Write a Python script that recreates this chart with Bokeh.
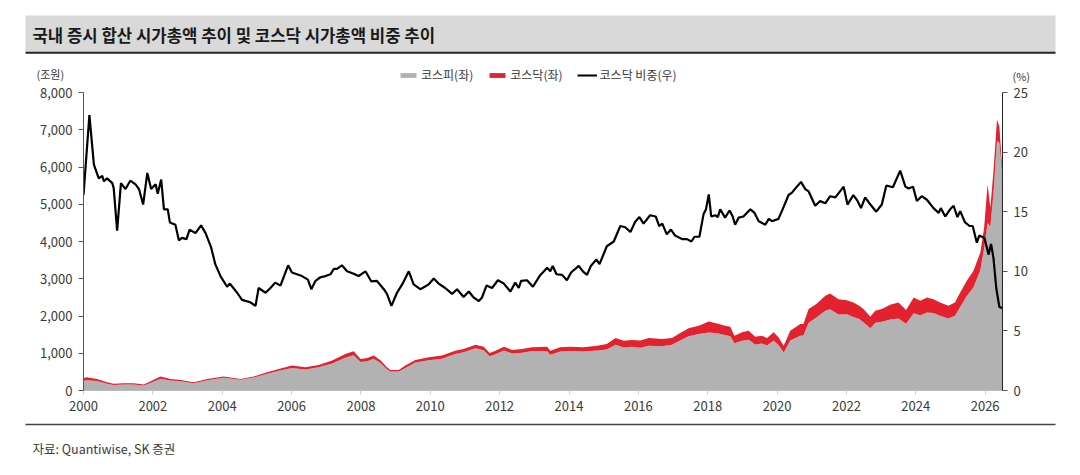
from bokeh.plotting import figure
from bokeh.layouts import column
from bokeh.models import (Range1d, LinearAxis, FixedTicker, NumeralTickFormatter,
                          PrintfTickFormatter, Legend, LegendItem, ColumnDataSource)
from bokeh.embed import file_html
from bokeh.resources import INLINE
from bokeh.core.properties import value

# ---- data ----
area_years = [2000.00, 2000.09, 2000.39, 2000.68, 2000.87, 2001.16, 2001.45, 2001.74, 2001.98,
              2002.22, 2002.51, 2002.80, 2003.18, 2003.57, 2004.04, 2004.53, 2004.91, 2005.20,
              2005.63, 2006.01, 2006.40, 2006.78, 2007.17, 2007.55, 2007.79, 2007.99, 2008.18,
              2008.37, 2008.57, 2008.75, 2008.85, 2009.09, 2009.28, 2009.57, 2009.95, 2010.34,
              2010.72, 2010.96, 2011.30, 2011.54, 2011.71, 2011.88, 2012.12, 2012.36, 2012.65,
              2012.93, 2013.37, 2013.46, 2013.75, 2014.04, 2014.42, 2014.81, 2015.09, 2015.34,
              2015.58, 2015.81, 2016.06, 2016.30, 2016.68, 2016.97, 2017.16, 2017.45, 2017.74,
              2018.03, 2018.27, 2018.50, 2018.65, 2018.77, 2018.99, 2019.18, 2019.37, 2019.56,
              2019.71, 2019.90, 2020.04, 2020.19, 2020.38, 2020.67, 2020.76, 2020.91, 2021.15,
              2021.39, 2021.53, 2021.77, 2022.01, 2022.20, 2022.37, 2022.49, 2022.69, 2022.83,
              2023.02, 2023.26, 2023.50, 2023.72, 2023.94, 2024.13, 2024.32, 2024.51, 2024.70,
              2024.94, 2025.13, 2025.28, 2025.47, 2025.66, 2025.86, 2025.97, 2026.07, 2026.15,
              2026.24, 2026.34, 2026.41, 2026.50]
kospi = [260, 277, 254, 183, 150, 163, 162, 134, 223,
         315, 268, 249, 194, 272, 341, 287, 348, 426,
         530, 603, 564, 623, 723, 882, 949, 765, 788,
         851, 733, 572, 513, 507, 607, 749, 813, 853,
         981, 1027, 1133, 1082, 921, 973, 1071, 996, 1013,
         1059, 1056, 963, 1047, 1061, 1044, 1072, 1098, 1229,
         1154, 1176, 1150, 1204, 1190, 1226, 1321, 1456, 1514,
         1555, 1537, 1487, 1456, 1267, 1333, 1364, 1235, 1265,
         1211, 1339, 1221, 1019, 1341, 1472, 1479, 1820, 1972,
         2142, 2180, 2043, 2046, 1975, 1920, 1835, 1670, 1820,
         1845, 1908, 1933, 1791, 2072, 2018, 2097, 2078, 2008,
         1935, 2008, 2241, 2534, 2768, 3226, 3815, 4500, 4400,
         5300, 6700, 6650, 5700]
kosdaq = [70, 80, 58, 40, 28, 33, 34, 26, 45,
          60, 44, 36, 29, 40, 34, 25, 27, 38,
          50, 66, 60, 64, 80, 99, 103, 82, 86,
          86, 70, 52, 40, 46, 62, 72, 79, 84,
          89, 88, 98, 95, 87, 97, 106, 92, 102,
          101, 121, 107, 113, 116, 116, 132, 151, 180,
          184, 180, 190, 205, 193, 183, 195, 212, 225,
          300, 265, 252, 257, 205, 228, 242, 210, 207,
          198, 222, 206, 185, 265, 312, 305, 365, 365,
          400, 424, 410, 380, 388, 355, 350, 310, 321,
          340, 393, 430, 368, 425, 390, 400, 375, 355,
          340, 355, 390, 410, 443, 475, 555, 1030, 505,
          590, 570, 440, 150]

ratio_years = [2000.00, 2000.17, 2000.30, 2000.44, 2000.54, 2000.59, 2000.68, 2000.83, 2000.87,
               2000.97, 2001.08, 2001.21, 2001.35, 2001.50, 2001.60, 2001.72, 2001.84, 2001.95,
               2002.08, 2002.14, 2002.24, 2002.32, 2002.43, 2002.49, 2002.65, 2002.75, 2002.84,
               2002.97, 2003.06, 2003.23, 2003.39, 2003.52, 2003.68, 2003.80, 2003.95, 2004.14,
               2004.22, 2004.43, 2004.57, 2004.81, 2004.96, 2005.05, 2005.25, 2005.39, 2005.53,
               2005.68, 2005.90, 2006.01, 2006.30, 2006.47, 2006.57, 2006.69, 2006.83, 2006.98,
               2007.12, 2007.22, 2007.31, 2007.45, 2007.60, 2007.79, 2007.93, 2008.13, 2008.30,
               2008.46, 2008.66, 2008.75, 2008.88, 2009.04, 2009.19, 2009.38, 2009.52, 2009.71,
               2009.84, 2009.95, 2010.10, 2010.24, 2010.43, 2010.63, 2010.77, 2010.96, 2011.11,
               2011.25, 2011.40, 2011.49, 2011.62, 2011.78, 2011.95, 2012.12, 2012.31, 2012.45,
               2012.55, 2012.62, 2012.79, 2012.96, 2013.15, 2013.37, 2013.46, 2013.53, 2013.64,
               2013.80, 2013.94, 2014.06, 2014.28, 2014.40, 2014.52, 2014.63, 2014.79, 2014.88,
               2015.09, 2015.29, 2015.48, 2015.62, 2015.77, 2015.91, 2016.03, 2016.15, 2016.34,
               2016.50, 2016.60, 2016.69, 2016.82, 2016.94, 2017.06, 2017.26, 2017.40, 2017.53,
               2017.62, 2017.76, 2017.88, 2017.95, 2018.03, 2018.10, 2018.22, 2018.29, 2018.36,
               2018.50, 2018.63, 2018.72, 2018.79, 2018.89, 2019.03, 2019.23, 2019.35, 2019.47,
               2019.66, 2019.76, 2019.85, 2020.04, 2020.19, 2020.33, 2020.43, 2020.57, 2020.69,
               2020.81, 2020.91, 2021.10, 2021.24, 2021.39, 2021.53, 2021.68, 2021.92, 2022.03,
               2022.20, 2022.32, 2022.42, 2022.54, 2022.69, 2022.86, 2023.02, 2023.15, 2023.34,
               2023.55, 2023.70, 2023.79, 2023.92, 2024.03, 2024.17, 2024.32, 2024.51, 2024.66,
               2024.72, 2024.85, 2024.99, 2025.09, 2025.20, 2025.28, 2025.42, 2025.55, 2025.64,
               2025.76, 2025.83, 2025.98, 2026.10, 2026.17, 2026.24, 2026.32, 2026.41, 2026.50]
ratio = [16.4, 23.1, 18.95, 17.8, 18.0, 17.55, 17.8, 17.4, 17.0,
         13.4, 17.4, 16.9, 17.6, 17.3, 16.9, 15.6, 18.25, 16.9,
         17.3, 16.5, 17.7, 15.2, 15.2, 14.1, 13.9, 12.6, 12.8,
         12.7, 13.5, 13.2, 13.85, 13.2, 12.0, 10.6, 9.6, 8.7,
         8.97, 8.2, 7.6, 7.4, 7.1, 8.6, 8.2, 8.6, 9.05,
         8.8, 10.5, 9.9, 9.6, 9.3, 8.5, 9.2, 9.5, 9.6,
         9.75, 10.2, 10.2, 10.5, 10.0, 9.8, 9.6, 10.0, 9.15,
         9.2, 8.5, 8.1, 7.1, 8.2, 8.9, 10.0, 8.9, 8.5,
         8.7, 8.9, 9.4, 8.97, 8.6, 8.1, 8.5, 7.85, 8.3,
         7.8, 7.5, 7.8, 8.8, 8.6, 9.25, 8.97, 8.3, 9.05,
         8.6, 9.2, 9.25, 8.7, 9.6, 10.3, 10.0, 10.45, 9.75,
         9.7, 9.25, 9.9, 10.45, 10.0, 9.7, 10.45, 11.0, 10.6,
         12.1, 12.5, 13.8, 13.7, 13.3, 14.15, 14.55, 14.0, 14.7,
         14.6, 13.8, 14.0, 13.1, 13.5, 13.0, 12.7, 12.7, 12.5,
         12.9, 12.9, 14.8, 15.2, 16.45, 14.6, 14.7, 14.55, 15.2,
         14.5, 15.1, 14.6, 13.9, 14.5, 14.6, 15.2, 14.9, 14.2,
         13.9, 14.4, 14.2, 14.4, 15.4, 16.4, 16.6, 17.1, 17.5,
         16.9, 16.7, 15.5, 15.9, 15.7, 16.3, 16.2, 17.1, 15.6,
         16.4, 15.9, 15.3, 16.2, 15.6, 15.0, 15.6, 17.2, 17.05,
         18.45, 17.1, 16.95, 17.1, 15.9, 16.3, 16.0, 15.3, 14.9,
         15.3, 14.6, 15.2, 15.5, 14.55, 15.05, 14.1, 13.8, 13.8,
         12.4, 13.0, 12.8, 11.4, 12.3, 11.1, 8.6, 7.0, 6.9]

x_ticks = list(range(2000, 2027, 2))
left_ticks = [0, 1000, 2000, 3000, 4000, 5000, 6000, 7000, 8000]
right_ticks = [0, 5, 10, 15, 20, 25]

title_text = "국내 증시 합산 시가총액 추이 및 코스닥 시가총액 비중 추이"
source_text = "자료: Quantiwise, SK 증권"
legend_labels = ["코스피(좌)", "코스닥(좌)", "코스닥 비중(우)"]
left_unit = "(조원)"
right_unit = "(%)"

FONT = "Noto Sans CJK KR"
GRAY = "#b2b2b2"
RED = "#e2222e"
TXT = "#3a3a3a"
W = 1064


def blank(height):
    f = figure(width=W, height=height, output_backend="svg", toolbar_location=None,
               x_range=Range1d(0, W), y_range=Range1d(height, 0),
               x_axis_type=None, y_axis_type=None, frame_align=False,
               min_border_left=0, min_border_right=0, min_border_top=0, min_border_bottom=0)
    f.grid.visible = False
    f.outline_line_color = None
    return f


# ---- header: title band, units, legend ----
hdr = blank(84)
hdr.quad(left=[25], right=[1055], top=[15], bottom=[52], fill_color="#d9d9d9", line_color=None)
hdr.quad(left=[25], right=[1055], top=[51.2], bottom=[53.2], fill_color="#262626", line_color=None)
hdr.text(x=[32], y=[34.5], text=[title_text], text_font=value(FONT), text_font_size="16.7px",
         text_font_style="bold", text_baseline="middle", text_color="#1a1a1a")
hdr.text(x=[36], y=[73.5], text=[left_unit], text_font=value(FONT), text_font_size="11px",
         text_baseline="middle", text_color=TXT)
hdr.text(x=[1012], y=[75], text=[right_unit], text_font=value(FONT), text_font_size="11px",
         text_baseline="middle", text_color=TXT)
sw1 = hdr.quad(left=[0], right=[0], top=[0], bottom=[0], fill_color=GRAY, line_color=None)
sw2 = hdr.quad(left=[0], right=[0], top=[0], bottom=[0], fill_color=RED, line_color=None)
sw3 = hdr.line(x=[0], y=[0], line_color="black", line_width=2)
leg = Legend(items=[LegendItem(label=legend_labels[0], renderers=[sw1]),
                    LegendItem(label=legend_labels[1], renderers=[sw2]),
                    LegendItem(label=legend_labels[2], renderers=[sw3])],
             orientation="horizontal", location=(398, 1),
             label_text_font=FONT, label_text_font_size="12px", label_text_color=TXT,
             glyph_width=20, glyph_height=6, spacing=14, label_standoff=3,
             padding=2, margin=0, border_line_color=None, background_fill_alpha=0,
             label_height=12)
hdr.add_layout(leg, "center")

# ---- main chart ----
src = ColumnDataSource(dict(year=area_years, kospi=kospi, kosdaq=kosdaq))
p = figure(width=W, height=334, output_backend="svg", toolbar_location=None,
           x_range=Range1d(2000, 2026.5), y_range=Range1d(0, 8000), frame_align=False,
           min_border_left=83, min_border_right=62, min_border_top=8,
           min_border_bottom=28)
p.extra_y_ranges = {"pct": Range1d(0, 25)}
p.xgrid.visible = False
p.ygrid.visible = False
p.outline_line_color = None

areas = p.varea_stack(["kospi", "kosdaq"], x="year", source=src, color=[GRAY, RED])
ln = p.line(ratio_years, ratio, y_range_name="pct", color="black", line_width=2.2)

xa = p.xaxis[0]
xa.ticker = FixedTicker(ticks=x_ticks)
xa.formatter = PrintfTickFormatter(format="%d")
ya = p.yaxis[0]
ya.ticker = FixedTicker(ticks=left_ticks)
ya.formatter = NumeralTickFormatter(format="0,0")
ra = LinearAxis(y_range_name="pct", ticker=FixedTicker(ticks=right_ticks))
p.add_layout(ra, "right")
for ax in (xa, ya, ra):
    ax.major_label_text_font = FONT
    ax.major_label_text_font_size = "13px"
    ax.major_label_text_color = TXT
    ax.minor_tick_line_color = None
    ax.major_tick_in = 0
    ax.major_tick_out = 5
    ax.major_label_standoff = 6
xa.axis_line_color = "#bbbbbb"
xa.major_tick_line_color = "#cccccc"
xa.major_tick_out = 4
xa.major_label_standoff = 6
ya.axis_line_color = "#555555"
ya.major_tick_line_color = "#555555"
ra.axis_line_color = "#222222"
ra.major_tick_line_color = "#555555"

# ---- footer ----
ftr = blank(41)
ftr.quad(left=[25], right=[1055], top=[5.3], bottom=[6.8], fill_color="#444444", line_color=None)
ftr.text(x=[32], y=[30], text=[source_text], text_font=value(FONT), text_font_size="12.5px",
         text_baseline="middle", text_color=TXT)

layout = column(hdr, p, ftr, spacing=0)
open("out.html", "w").write(file_html(layout, INLINE))
